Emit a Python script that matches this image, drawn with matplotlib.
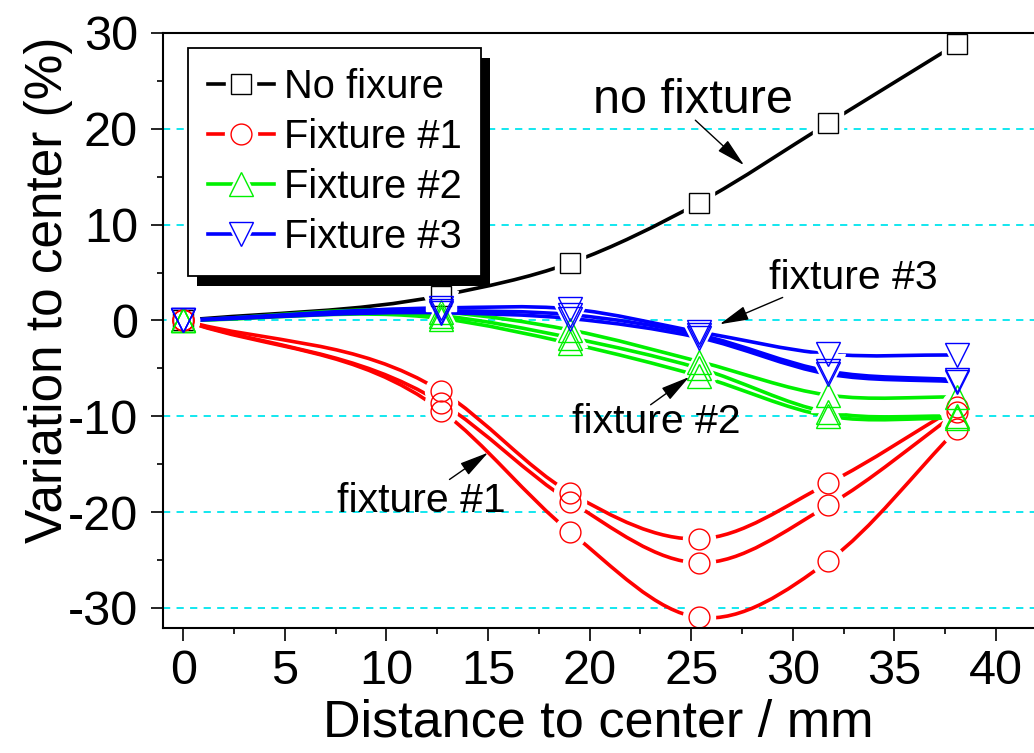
import matplotlib
matplotlib.use("Agg")
import matplotlib.pyplot as plt
import numpy as np
from matplotlib.legend_handler import HandlerTuple
from matplotlib.lines import Line2D
from matplotlib.patches import PathPatch, Rectangle
from matplotlib.path import Path
from matplotlib.ticker import MultipleLocator
from matplotlib.transforms import IdentityTransform

plt.rcParams["font.family"] = ["Liberation Sans", "DejaVu Sans"]
plt.rcParams["axes.unicode_minus"] = False

# ===== data =====
# radial positions of the measuring points (mm)
x_mm = [0, 12.7, 19.05, 25.4, 31.75, 38.1]

no_fix = [0, 2.6, 6.0, 12.3, 20.6, 28.9]

fix1_a = [0, -7.4, -18.0, -22.8, -17.0, -9.0]
fix1_b = [0, -8.6, -18.9, -25.3, -19.3, -9.6]
fix1_c = [0, -9.4, -22.1, -31.0, -25.1, -11.3]

fix2_a = [0, 0.9, -1.0, -4.3, -7.8, -8.0]
fix2_b = [0, 0.5, -1.8, -5.0, -9.6, -10.0]
fix2_c = [0, 0.2, -2.4, -5.8, -10.0, -10.2]

fix3_a = [0, 1.3, 1.2, -1.2, -3.5, -3.6]
fix3_b = [0, 1.0, 0.6, -1.5, -5.3, -6.2]
fix3_c = [0, 0.8, 0.2, -1.8, -5.6, -6.4]

legend_labels = ["No fixure", "Fixture #1", "Fixture #2", "Fixture #3"]
# ================

GROUPS = [
    ([no_fix], "black", "s", 14),
    ([fix1_a, fix1_b, fix1_c], "#ff0000", "o", 15),
    ([fix2_a, fix2_b, fix2_c], "#00f000", "^", 17),
    ([fix3_a, fix3_b, fix3_c], "#0000ff", "v", 17),
]
LINE_W = 2.6
GAP = 8  # extra white margin around symbols (points)


def smooth_path(x, y):
    """Bezier path through the points, tangents from np.gradient."""
    x = np.asarray(x, float)
    y = np.asarray(y, float)
    m = np.gradient(y, x)
    verts = [(x[0], y[0])]
    codes = [Path.MOVETO]
    for i in range(len(x) - 1):
        h = x[i + 1] - x[i]
        verts += [
            (x[i] + h / 3, y[i] + m[i] * h / 3),
            (x[i + 1] - h / 3, y[i + 1] - m[i + 1] * h / 3),
            (x[i + 1], y[i + 1]),
        ]
        codes += [Path.CURVE4] * 3
    return Path(verts, codes)


fig = plt.figure(figsize=(10.34, 7.53), dpi=100)
ax = fig.add_axes([163 / 1034, 125 / 753, 871 / 1034, 595 / 753])

for series, color, marker, ms in GROUPS:
    for ys in series:
        ax.add_patch(PathPatch(smooth_path(x_mm, ys), fill=False,
                               edgecolor=color, lw=LINE_W, capstyle="butt",
                               zorder=2))
        ax.plot(x_mm, ys, ls="none", marker=marker, ms=ms + GAP,
                mfc="white", mec="white", zorder=3)
for series, color, marker, ms in GROUPS:
    for ys in series:
        ax.plot(x_mm, ys, ls="none", marker=marker, ms=ms, mfc="none",
                mec=color, mew=1.0, zorder=4)

ax.set_xlim(-1, 41.87)
ax.set_ylim(-32.1, 30)

ax.xaxis.set_major_locator(MultipleLocator(5))
ax.xaxis.set_minor_locator(MultipleLocator(2.5))
ax.yaxis.set_major_locator(MultipleLocator(10))
ax.yaxis.set_minor_locator(MultipleLocator(5))
ax.tick_params(which="major", direction="out", length=9, width=1.2,
               labelsize=35)
ax.tick_params(axis="x", which="major", pad=6)
ax.tick_params(axis="y", which="major", pad=9)
ax.tick_params(which="minor", direction="out", length=4.5, width=1.2)
ax.tick_params(top=False, right=False, which="both")

ax.set_axisbelow(True)
ax.yaxis.grid(True, color="#00e5ee", ls=(0, (4, 3.5)), lw=1.3)

for side in ["left", "bottom", "top"]:
    ax.spines[side].set_linewidth(1.5)
    ax.spines[side].set_zorder(5)
ax.spines["right"].set_visible(False)

ax.set_xlabel("Distance to center / mm", fontsize=37.5, va="baseline")
ax.xaxis.set_label_coords(0.5, -0.182)
ax.set_ylabel("Variation to center (%)", fontsize=37, va="center")
ax.yaxis.set_label_coords(-0.131, 0.568)

# legend: line with a gapped hollow symbol in the middle
handles = []
for (series, color, marker, ms), label in zip(GROUPS, legend_labels):
    ln = Line2D([], [], color=color, lw=LINE_W)
    bg = Line2D([], [], ls="none", marker=marker, ms=ms + GAP,
                mfc="white", mec="white")
    fg = Line2D([], [], ls="none", marker=marker, ms=ms, mfc="none",
                mec=color, mew=1.0)
    handles.append((ln, bg, fg))

leg = ax.legend(handles, legend_labels, handler_map={tuple: HandlerTuple(ndivide=1)},
                loc="upper left", bbox_to_anchor=(25 / 871, 580 / 595),
                borderaxespad=0, fontsize=28.7, frameon=True, fancybox=False,
                edgecolor="black", framealpha=1, handlelength=1.65,
                handletextpad=0.25, labelspacing=0.3, borderpad=0.5,
                numpoints=1)
leg.get_frame().set_linewidth(1.3)
leg.set_zorder(7)

# annotations
ax.text(25.1, 21.7, "no fixture", fontsize=35, ha="center", va="baseline")
ax.text(33.0, 3.3, "fixture #3", fontsize=29.5, ha="center", va="baseline")
ax.text(23.3, -11.8, "fixture #2", fontsize=29.5, ha="center", va="baseline")
ax.text(11.7, -20.0, "fixture #1", fontsize=29.5, ha="center", va="baseline")

arrow = dict(arrowstyle="-|>,head_length=0.9,head_width=0.22", color="black",
             lw=1.0, shrinkA=0, shrinkB=0, mutation_scale=20)
arrows = [
    ((25.2, 20.9), (27.6, 16.2)),
    ((29.5, 2.4), (26.4, -0.4)),
    ((23.0, -8.8), (24.9, -5.9)),
    ((13.1, -16.6), (15.0, -13.8)),
]
for start, tip in arrows:
    ax.annotate("", xy=tip, xytext=start, arrowprops=arrow, zorder=6)

# solid drop shadow offset to the lower right of the legend frame
fig.canvas.draw()
bb = leg.get_window_extent()
shadow = Rectangle((bb.x0 + 9, bb.y0 - 10), bb.width, bb.height,
                   transform=IdentityTransform(), facecolor="black",
                   edgecolor="none", zorder=6.5, clip_on=False)
ax.add_artist(shadow)

fig.savefig("out.png", dpi=100)
